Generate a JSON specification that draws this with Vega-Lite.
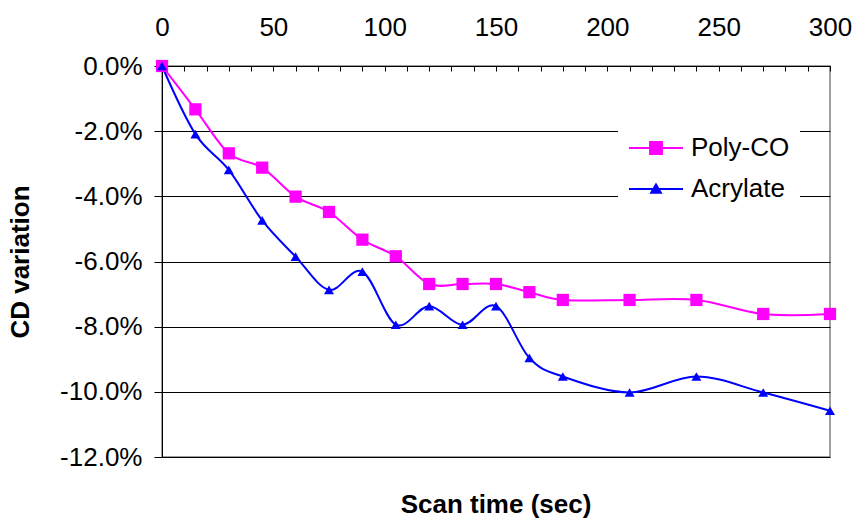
{
  "$schema": "https://vega.github.io/schema/vega-lite/v6.json",
  "width": 668,
  "height": 391,
  "autosize": {"type": "none"},
  "padding": {"left": 162, "top": 66, "right": 28, "bottom": 66},
  "background": "white",
  "config": {
    "font": "Liberation Sans",
    "view": {"stroke": "#808080", "strokeWidth": 1.5}
  },
  "title": {
    "text": "Scan time (sec)",
    "orient": "bottom",
    "anchor": "middle",
    "frame": "group",
    "fontSize": 26,
    "fontWeight": "bold",
    "font": "Liberation Sans",
    "color": "black",
    "offset": 22
  },
  "data": {
    "values": [
      {"t": 0, "series": "Poly-CO", "v": 0},
      {"t": 15, "series": "Poly-CO", "v": -0.0133},
      {"t": 30, "series": "Poly-CO", "v": -0.0268},
      {"t": 45, "series": "Poly-CO", "v": -0.0312},
      {"t": 60, "series": "Poly-CO", "v": -0.0401},
      {"t": 75, "series": "Poly-CO", "v": -0.0448},
      {"t": 90, "series": "Poly-CO", "v": -0.0533},
      {"t": 105, "series": "Poly-CO", "v": -0.0584},
      {"t": 120, "series": "Poly-CO", "v": -0.0669},
      {"t": 135, "series": "Poly-CO", "v": -0.0669},
      {"t": 150, "series": "Poly-CO", "v": -0.0669},
      {"t": 165, "series": "Poly-CO", "v": -0.0694},
      {"t": 180, "series": "Poly-CO", "v": -0.0718},
      {"t": 210, "series": "Poly-CO", "v": -0.0718},
      {"t": 240, "series": "Poly-CO", "v": -0.0718},
      {"t": 270, "series": "Poly-CO", "v": -0.0761},
      {"t": 300, "series": "Poly-CO", "v": -0.0761},
      {"t": 0, "series": "Acrylate", "v": 0},
      {"t": 15, "series": "Acrylate", "v": -0.0209},
      {"t": 30, "series": "Acrylate", "v": -0.0319},
      {"t": 45, "series": "Acrylate", "v": -0.0474},
      {"t": 60, "series": "Acrylate", "v": -0.0585},
      {"t": 75, "series": "Acrylate", "v": -0.0687},
      {"t": 90, "series": "Acrylate", "v": -0.0631},
      {"t": 105, "series": "Acrylate", "v": -0.0794},
      {"t": 120, "series": "Acrylate", "v": -0.0737},
      {"t": 135, "series": "Acrylate", "v": -0.0794},
      {"t": 150, "series": "Acrylate", "v": -0.0737},
      {"t": 165, "series": "Acrylate", "v": -0.0896},
      {"t": 180, "series": "Acrylate", "v": -0.0953},
      {"t": 210, "series": "Acrylate", "v": -0.1002},
      {"t": 240, "series": "Acrylate", "v": -0.0953},
      {"t": 270, "series": "Acrylate", "v": -0.1002},
      {"t": 300, "series": "Acrylate", "v": -0.1058}
    ]
  },
  "encoding": {
    "x": {
      "field": "t",
      "type": "quantitative",
      "scale": {"domain": [0, 300], "nice": false, "zero": false},
      "axis": {
        "orient": "top",
        "title": null,
        "values": [0,10,20,30,40,50,60,70,80,90,100,110,120,130,140,150,160,170,180,190,200,210,220,230,240,250,260,270,280,290,300],
        "labelExpr": "datum.value % 50 == 0 ? datum.label : ''",
        "labelOverlap": false,
        "labelFlush": false,
        "labelFontSize": 26,
        "labelColor": "black",
        "labelPadding": 31,
        "tickSize": -5,
        "tickColor": "black",
        "domainColor": "black",
        "domainWidth": 1,
        "grid": false
      }
    },
    "y": {
      "field": "v",
      "type": "quantitative",
      "scale": {"domain": [-0.12, 0], "nice": false, "zero": false},
      "axis": {
        "title": "CD variation",
        "titleFontSize": 26,
        "titleFontWeight": "bold",
        "titleColor": "black",
        "titlePadding": 26,
        "values": [0, -0.02, -0.04, -0.06, -0.08, -0.1, -0.12],
        "labelExpr": "replace(format(datum.value, '.1%'), '\u2212', '-')",
        "labelFontSize": 26,
        "labelColor": "black",
        "labelPadding": 12,
        "tickSize": 8,
        "tickColor": "black",
        "domainColor": "black",
        "grid": true,
        "gridColor": "black",
        "gridWidth": 1,
        "gridOpacity": 1
      }
    },
    "color": {
      "field": "series",
      "type": "nominal",
      "scale": {"domain": ["Poly-CO", "Acrylate"], "range": ["#ff00ff", "#0000ff"]},
      "legend": {
        "title": null,
        "orient": "none",
        "legendX": 456,
        "legendY": 44,
        "fillColor": "white",
        "padding": 10,
        "symbolSize": 2916,
        "symbolStrokeWidth": 2,
        "labelFontSize": 26,
        "labelFont": "Liberation Sans",
        "labelColor": "black",
        "labelOffset": 7,
        "rowPadding": 0,
        "encode": {
          "symbols": {
            "update": {
              "shape": {"signal": "datum.value === 'Poly-CO' ? 'M-1,0H1M-0.22,-0.22H0.22V0.22H-0.22Z' : 'M-1,0H1M0,-0.17L0.18,0.14H-0.18Z'"},
              "fill": {"signal": "scale('color', datum.value)"},
              "stroke": {"signal": "scale('color', datum.value)"},
              "strokeWidth": {"value": 2},
              "opacity": {"value": 1}
            }
          }
        }
      }
    }
  },
  "layer": [
    {
      "mark": {"type": "line", "interpolate": "cardinal", "strokeWidth": 2}
    },
    {
      "transform": [{"filter": "datum.series === 'Poly-CO'"}],
      "mark": {"type": "point", "filled": true, "opacity": 1, "shape": "square", "size": 150}
    },
    {
      "transform": [{"filter": "datum.series === 'Acrylate'"}],
      "mark": {"type": "point", "filled": true, "opacity": 1, "shape": "triangle-up", "size": 100}
    }
  ]
}
